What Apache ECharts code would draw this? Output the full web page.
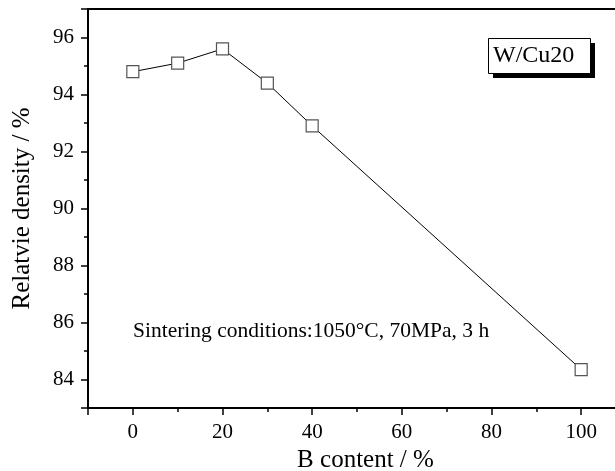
<!DOCTYPE html>
<html>
<head>
<meta charset="utf-8">
<script src="https://cdn.jsdelivr.net/npm/echarts@6/dist/echarts.min.js"></script>
<style>html,body{margin:0;padding:0;background:#fff}#c{width:615px;height:471px}</style>
</head>
<body>
<div id="c"></div>
<script>
var bContent = [0, 10, 20, 30, 40, 100];
var relDensity = [94.8, 95.1, 95.6, 94.4, 92.9, 84.35];
var xTickLabels = [0, 20, 40, 60, 80, 100];
var yTickLabels = [84, 86, 88, 90, 92, 94, 96];
var legendLabel = 'W/Cu20';
var noteText = 'Sintering conditions:1050\u00b0C, 70MPa, 3 h';
var xTitle = 'B content / %';
var yTitle = 'Relatvie density / %';

var FONT = '"Liberation Serif", "DejaVu Serif", serif';
var chart = echarts.init(document.getElementById('c'), null, {renderer: 'canvas'});

var xMin = -10, xMax = 110, yMin = 83, yMax = 97;

chart.setOption({
  animation: false,
  backgroundColor: '#fff',
  grid: {
    left: 88, top: 9, bottom: 63, right: -11,
    outerBoundsMode: 'none', containLabel: false,
    show: true, borderColor: '#000', borderWidth: 2, backgroundColor: 'transparent'
  },
  xAxis: [{
    type: 'value', min: xMin, max: xMax, interval: 10,
    position: 'bottom',
    name: xTitle, nameLocation: 'middle', nameGap: 35,
    nameTextStyle: {fontFamily: FONT, fontSize: 25, color: '#000', padding: [0, 0, 0, 17]},
    axisLine: {show: true, onZero: false, lineStyle: {color: '#000', width: 2}},
    axisTick: {show: true, inside: false, length: 4, lineStyle: {color: '#000', width: 1.5}},
    axisLabel: {
      show: true, margin: 14, fontFamily: FONT, fontSize: 21, color: '#000',
      formatter: function (v) { return xTickLabels.indexOf(v) >= 0 ? String(v) : ''; }
    },
    splitLine: {show: false}
  }, {
    type: 'value', min: xMin, max: xMax, splitNumber: 6,
    position: 'bottom',
    axisLine: {show: false, onZero: false},
    axisTick: {show: true, inside: false, length: 7, lineStyle: {color: '#000', width: 1.5}},
    axisLabel: {show: false},
    splitLine: {show: false}
  }],
  yAxis: [{
    type: 'value', min: yMin, max: yMax, interval: 1,
    position: 'left',
    name: yTitle, nameLocation: 'middle', nameGap: 53,
    nameTextStyle: {fontFamily: FONT, fontSize: 25, color: '#000'},
    axisLine: {show: true, onZero: false, lineStyle: {color: '#000', width: 2}},
    axisTick: {show: true, inside: false, length: 4, lineStyle: {color: '#000', width: 1.5}},
    axisLabel: {
      show: true, margin: 14, fontFamily: FONT, fontSize: 21, color: '#000',
      formatter: function (v) { return yTickLabels.indexOf(v) >= 0 ? String(v) : ''; }
    },
    splitLine: {show: false}
  }, {
    type: 'value', min: yMin, max: yMax, splitNumber: 7,
    position: 'left',
    axisLine: {show: false, onZero: false},
    axisTick: {show: true, inside: false, length: 7, lineStyle: {color: '#000', width: 1.5}},
    axisLabel: {show: false},
    splitLine: {show: false}
  }],
  series: [{
    type: 'line',
    xAxisIndex: 0, yAxisIndex: 0,
    data: bContent.map(function (x, i) { return [x, relDensity[i]]; }),
    symbol: 'rect', symbolSize: 12,
    itemStyle: {color: '#fff', borderColor: '#555', borderWidth: 1.2},
    lineStyle: {color: '#000', width: 1},
    z: 3
  }],
  graphic: [
    {type: 'rect', shape: {x: 493, y: 43, width: 102, height: 35}, style: {fill: '#000'}, z: 10},
    {type: 'rect', shape: {x: 488.5, y: 38.5, width: 102, height: 35}, style: {fill: '#fff', stroke: '#000', lineWidth: 1}, z: 11},
    {type: 'text', x: 493, y: 56, style: {text: legendLabel, fontFamily: FONT, fontSize: 24, fill: '#000', verticalAlign: 'middle'}, z: 12},
    {type: 'text', x: 133, y: 331, style: {text: noteText, fontFamily: FONT, fontSize: 21.5, fill: '#000', verticalAlign: 'middle'}, z: 12}
  ]
});
</script>
</body>
</html>
